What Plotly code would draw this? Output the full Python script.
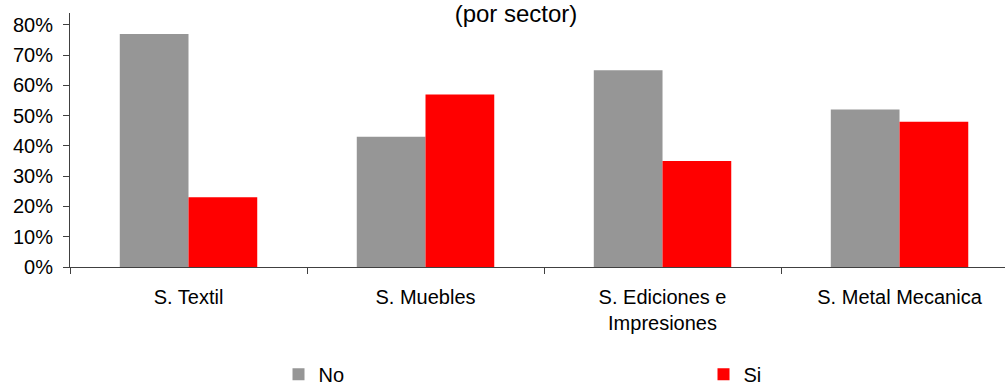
import plotly.graph_objects as go

# Survey answers by sector (share of firms)
categories = ["S. Textil", "S. Muebles", "S. Ediciones e<br>Impresiones", "S. Metal Mecanica"]
no_values = [0.77, 0.43, 0.65, 0.52]
si_values = [0.23, 0.57, 0.35, 0.48]
tick_values = [0, 0.1, 0.2, 0.3, 0.4, 0.5, 0.6, 0.7, 0.8]
tick_labels = ["0%", "10%", "20%", "30%", "40%", "50%", "60%", "70%", "80%"]

FONT = "Liberation Sans, Arial, sans-serif"
AXIS_COLOR = "#404040"

fig = go.Figure()
fig.add_trace(go.Bar(name="No", x=categories, y=no_values, marker_color="#969696",
                     marker_line_width=0))
fig.add_trace(go.Bar(name="Si", x=categories, y=si_values, marker_color="#FF0000",
                     marker_line_width=0))

fig.update_layout(
    width=1005,
    height=385,
    margin=dict(l=70, r=0, t=13, b=118, autoexpand=False),
    paper_bgcolor="white",
    plot_bgcolor="white",
    font=dict(family=FONT, size=20, color="black"),
    barmode="group",
    bargap=0.42,
    bargroupgap=0,
    title=dict(text="(por sector)", x=516 / 1005, xref="container", xanchor="center",
               y=1 - 13.5 / 385, yref="container", yanchor="middle",
               font=dict(family=FONT, size=24, color="black")),
    showlegend=True,
    legend=dict(orientation="h", x=0.223, xanchor="left", y=-0.422, yanchor="middle",
                entrywidth=380, entrywidthmode="pixels",
                font=dict(family=FONT, size=20, color="black"),
                bgcolor="rgba(0,0,0,0)"),
)

fig.update_xaxes(
    type="category",
    range=[-0.5, 3.445],
    showline=True, linecolor=AXIS_COLOR, linewidth=1,
    ticks="outside", ticklen=6, tickcolor=AXIS_COLOR, tickson="boundaries",
    ticklabelstandoff=12,
    showgrid=False, zeroline=False,
    tickfont=dict(family=FONT, size=20, color="black"),
)
fig.update_yaxes(
    range=[0, 0.839],
    tickvals=tick_values, ticktext=tick_labels,
    showline=True, linecolor=AXIS_COLOR, linewidth=1,
    ticks="outside", ticklen=6, tickcolor=AXIS_COLOR,
    ticklabelstandoff=6,
    showgrid=False, zeroline=False,
    tickfont=dict(family=FONT, size=20, color="black"),
)

fig.write_html("out.html")
